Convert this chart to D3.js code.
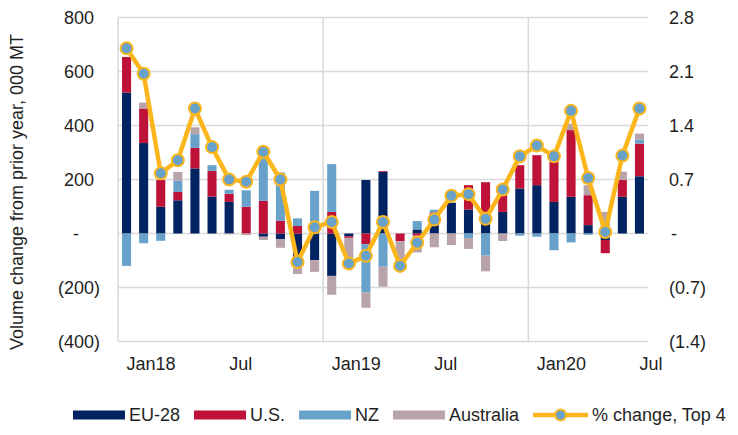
<!DOCTYPE html>
<html>
<head>
<meta charset="utf-8">
<script src="https://cdn.jsdelivr.net/npm/d3@7"></script>
<style>
  body { margin: 0; background: #fff; }
  text { font-family: "Liberation Sans", Arial, sans-serif; font-size: 18px; fill: #1f1f1f; }
</style>
</head>
<body>
<div id="chart"></div>
<script>
// months Jan 2018 .. Jul 2020
var months = ["2018-01","2018-02","2018-03","2018-04","2018-05","2018-06","2018-07","2018-08","2018-09","2018-10","2018-11","2018-12",
              "2019-01","2019-02","2019-03","2019-04","2019-05","2019-06","2019-07","2019-08","2019-09","2019-10","2019-11","2019-12",
              "2020-01","2020-02","2020-03","2020-04","2020-05","2020-06","2020-07"];

// volume change from prior year, 000 MT
var eu28 = [522, 335, 99, 123, 241, 137, 117, 0, -12, -21, -105, -99, -157, -10, 198, 228, 0, 15, 72, 114, 89, 80, 80, 167, 179, 117, 136, 31, -24, 136, 212];
var us   = [132, 128, 99, 31, 76, 95, 30, 99, 121, 47, 28, 0, 80, -6, -40, 3, -28, -8, 6, 0, 90, 110, 62, 86, 111, 150, 247, 111, -49, 62, 121];
var nz   = [-120, -36, -27, 41, 51, 21, 15, 61, 165, 179, 28, 158, 177, 0, -179, -123, 0, 31, 10, 0, -17, -82, 0, -8, -12, -62, -33, -5, 0, 0, 15];
var aus  = [0, 22, 0, 33, 25, 0, -3, -6, -12, -32, -45, -43, -70, -75, -56, -74, -83, -62, -51, -43, -40, -58, -28, 0, 0, 0, 24, 37, 80, 31, 22];

// % change, top 4 (right axis)
var pctTop4 = [2.40, 2.07, 0.78, 0.95, 1.62, 1.12, 0.70, 0.67, 1.06, 0.70, -0.37, 0.08, 0.15, -0.39, -0.29, 0.15,
               -0.42, -0.12, 0.18, 0.49, 0.51, 0.19, 0.57, 1.00, 1.14, 1.00, 1.59, 0.72, 0.02, 1.01, 1.62];

var tickMonths = ["2018-01","2018-07","2019-01","2019-07","2020-01","2020-07"];
var tickLabels = ["Jan18","Jul","Jan19","Jul","Jan20","Jul"];

var leftTicks = [800, 600, 400, 200, 0, -200, -400];
var rightTicks = [2.8, 2.1, 1.4, 0.7, 0, -0.7, -1.4];

var keys = ["EU-28", "U.S.", "NZ", "Australia"];
var colors = {"EU-28": "#022361", "U.S.": "#be1239", "NZ": "#68a2ca", "Australia": "#b9a3aa"};
var lineColor = "#fbb61c";

var width = 738, height = 435;
var plotLeft = 118, plotRight = 648, plotTop = 17.5, plotBottom = 341.5;

var svg = d3.select("#chart").append("svg")
  .attr("width", width)
  .attr("height", height);

// build rows for the stack
var rows = months.map(function(m, i) {
  return {month: m, "EU-28": eu28[i], "U.S.": us[i], "NZ": nz[i], "Australia": aus[i], pct: pctTop4[i]};
});

var x = d3.scaleBand()
  .domain(months)
  .range([plotLeft, plotRight])
  .paddingInner(0.47)
  .paddingOuter(0.235);

var y = d3.scaleLinear().domain([-400, 800]).range([plotBottom, plotTop]);
var y2 = d3.scaleLinear().domain([-1.4, 2.8]).range([plotBottom, plotTop]);

var step = x.step();

// horizontal gridlines
svg.append("g").selectAll("line")
  .data(leftTicks)
  .enter().append("line")
  .attr("x1", plotLeft).attr("x2", plotRight)
  .attr("y1", function(d) { return y(d); })
  .attr("y2", function(d) { return y(d); })
  .attr("stroke", "#d9d9d9")
  .attr("stroke-width", 1.5);

// vertical gridlines at year boundaries
svg.append("g").selectAll("line")
  .data([0, 12, 24])
  .enter().append("line")
  .attr("x1", function(d) { return plotLeft + d * step; })
  .attr("x2", function(d) { return plotLeft + d * step; })
  .attr("y1", plotTop).attr("y2", plotBottom)
  .attr("stroke", "#d9d9d9")
  .attr("stroke-width", 1.5);

// stacked bars
var series = d3.stack().keys(keys).offset(d3.stackOffsetDiverging)(rows);

svg.append("g").selectAll("g")
  .data(series)
  .enter().append("g")
  .attr("fill", function(d) { return colors[d.key]; })
  .selectAll("rect")
  .data(function(d) { return d; })
  .enter().append("rect")
  .attr("x", function(d) { return x(d.data.month); })
  .attr("width", x.bandwidth())
  .attr("y", function(d) { return y(Math.max(d[0], d[1])); })
  .attr("height", function(d) { return Math.abs(y(d[0]) - y(d[1])); });

// line + markers
var line = d3.line()
  .x(function(d) { return x(d.month) + x.bandwidth() / 2; })
  .y(function(d) { return y2(d.pct); });

svg.append("path")
  .datum(rows)
  .attr("fill", "none")
  .attr("stroke", lineColor)
  .attr("stroke-width", 4.5)
  .attr("stroke-linejoin", "round")
  .attr("d", line);

svg.append("g").selectAll("circle")
  .data(rows)
  .enter().append("circle")
  .attr("cx", function(d) { return x(d.month) + x.bandwidth() / 2; })
  .attr("cy", function(d) { return y2(d.pct); })
  .attr("r", 6)
  .attr("fill", "#68a2ca")
  .attr("stroke", lineColor)
  .attr("stroke-width", 2);

// left axis labels (accounting style)
svg.append("g").selectAll("text")
  .data(leftTicks)
  .enter().append("text")
  .attr("x", function(d) { return d > 0 ? 94 : (d < 0 ? 100 : 79); })
  .attr("y", function(d) { return y(d); })
  .attr("dy", "0.35em")
  .attr("text-anchor", "end")
  .text(function(d) {
    if (d === 0) return "-";
    return d < 0 ? "(" + d3.format(",")(-d) + ")" : d3.format(",")(d);
  });

// right axis labels
svg.append("g").selectAll("text")
  .data(rightTicks)
  .enter().append("text")
  .attr("x", function(d) { return d === 0 ? 671 : 669; })
  .attr("y", function(d) { return y2(d); })
  .attr("dy", "0.35em")
  .text(function(d) {
    if (d === 0) return "-";
    return d < 0 ? "(" + d3.format(".1f")(-d) + ")" : d3.format(".1f")(d);
  });

// x labels, start at the bar centre
svg.append("g").selectAll("text")
  .data(tickMonths)
  .enter().append("text")
  .attr("x", function(d) { return x(d) + x.bandwidth() / 2; })
  .attr("y", 369.5)
  .text(function(d, i) { return tickLabels[i]; });

// y title
svg.append("text")
  .attr("transform", "translate(23,192) rotate(-90)")
  .attr("text-anchor", "middle")
  .text("Volume change from prior year, 000 MT");

// legend
var legend = svg.append("g");
var lx = 73, ly = 415;
keys.forEach(function(k) {
  legend.append("rect")
    .attr("x", lx).attr("y", ly - 4.5)
    .attr("width", 52).attr("height", 9)
    .attr("fill", colors[k]);
  var t = legend.append("text")
    .attr("x", lx + 56).attr("y", ly).attr("dy", "0.35em")
    .text(k);
  lx = lx + 56 + t.node().getComputedTextLength() + 14;
});
legend.append("line")
  .attr("x1", lx).attr("x2", lx + 55)
  .attr("y1", ly).attr("y2", ly)
  .attr("stroke", lineColor).attr("stroke-width", 4.5);
legend.append("circle")
  .attr("cx", lx + 27.5).attr("cy", ly).attr("r", 5.5)
  .attr("fill", "#68a2ca").attr("stroke", lineColor).attr("stroke-width", 2);
legend.append("text")
  .attr("x", lx + 59).attr("y", ly).attr("dy", "0.35em")
  .text("% change, Top 4");
</script>
</body>
</html>
